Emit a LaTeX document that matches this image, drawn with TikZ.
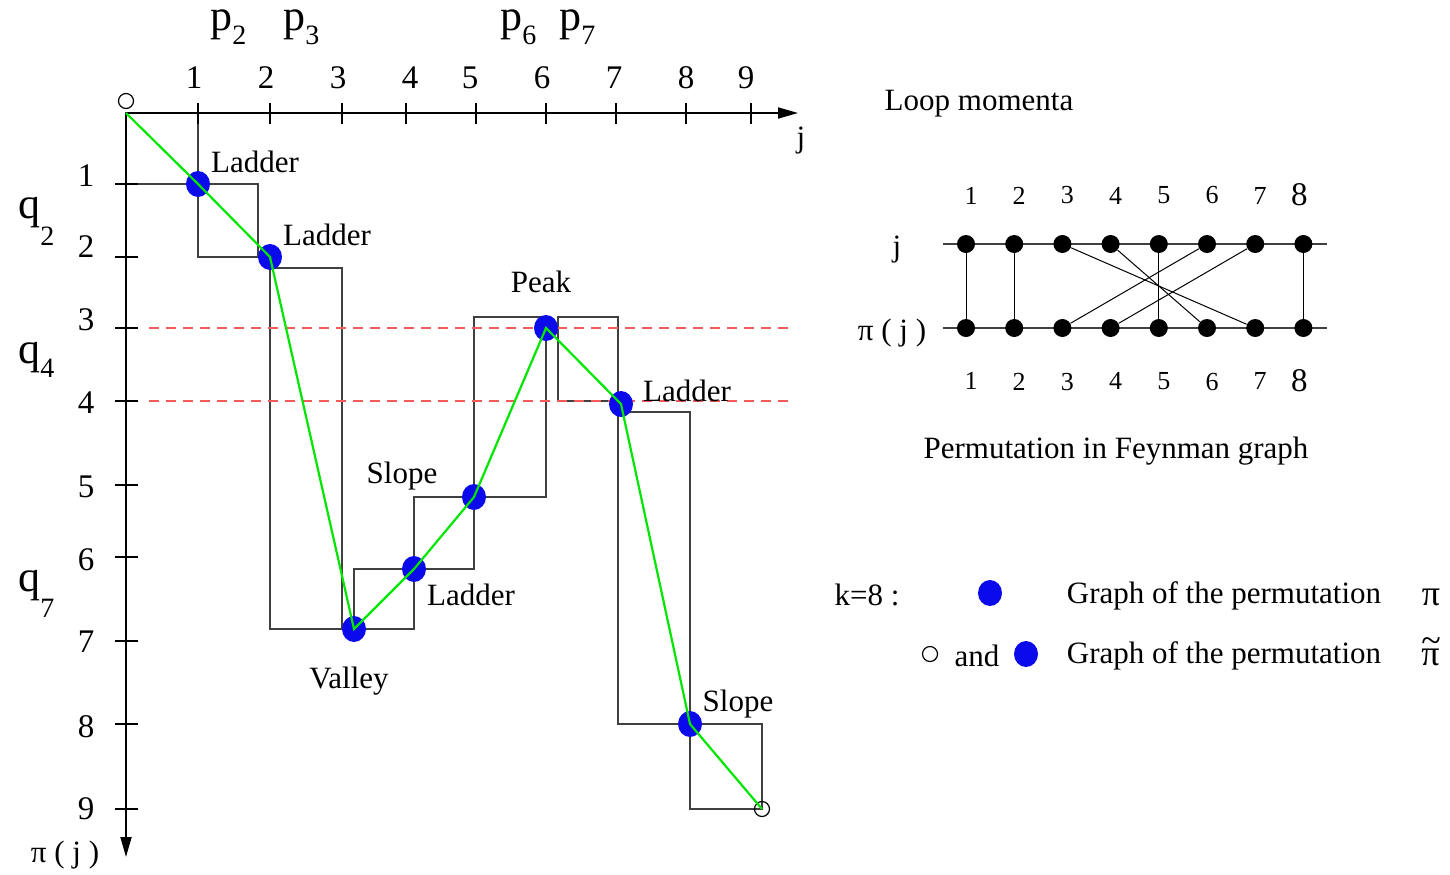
\documentclass[tikz,border=0pt]{standalone}
\usepackage{fontspec}
\setmainfont{Liberation Serif}
\usepackage{tikz}
\usetikzlibrary{shapes.geometric, arrows.meta, positioning, calc, backgrounds}

\definecolor{dotblue}{RGB}{10,10,235}
\definecolor{walkgreen}{RGB}{0,230,0}
\definecolor{boxgray}{RGB}{64,64,64}
\definecolor{refred}{RGB}{245,90,90}

\newcommand{\lowidx}[2][7pt]{\raisebox{-#1}{\fontsize{14}{14}\selectfont #2}}
\newcommand{\tildepi}{\ooalign{\hfil\raisebox{0.36em}{\textasciitilde}\hfil\cr π\cr}}

\begin{document}
\begin{tikzpicture}[
  x = 0.5pt, y = -0.5pt,
  lbl/.style      = {font=\fontsize{15.5}{18}\selectfont, inner sep=0pt},
  numlbl/.style   = {font=\fontsize{16.5}{18}\selectfont, inner sep=0pt},
  grnum/.style    = {font=\fontsize{13}{15}\selectfont, inner sep=0pt},
  pilbl/.style    = {font=\fontsize{18}{20}\selectfont, inner sep=0pt},
  momlbl/.style   = {font=\fontsize{22}{24}\selectfont, inner sep=0pt, anchor=base west},
  dot/.style      = {ellipse, fill=dotblue, minimum width=12pt, minimum height=13pt, inner sep=0pt},
  ring/.style     = {circle, draw=black, line width=0.6pt, minimum size=7.5pt, inner sep=0pt},
  vtx/.style      = {circle, fill=black, minimum size=9pt, inner sep=0pt},
  axisarr/.style  = {line width=0.9pt, -{Triangle[length=10pt, width=5.5pt]}},
  tickmark/.style = {line width=0.9pt},
  boxline/.style  = {line width=0.8pt, draw=boxgray},
  walk/.style     = {line width=1.1pt, draw=walkgreen},
  refline/.style  = {line width=0.75pt, draw=refred, dash pattern=on 5pt off 3.5pt},
  rail/.style     = {line width=0.8pt, draw=black!75},
  link/.style     = {line width=0.5pt}
]
\useasboundingbox (0,0) rectangle (1450,874);

% ── Axes ──────────────────────────────────────────────────────────────────────
\coordinate (O)    at (126,113);
\coordinate (xend) at (798,113);
\coordinate (yend) at (126,857);

% ── Boxes round the graph of pi ──────────────────────────────────────────────
\foreach \ax/\ay/\bx/\by in {126/113/198/184, 198/184/258/257, 270/268/342/629,
                             354/569/414/629, 414/497/474/569, 474/317/546/497,
                             558/317/618/401, 618/412/690/724, 690/724/762/809}
  \draw[boxline] (\ax,\ay) rectangle (\bx,\by);

\draw[axisarr] (O) -- (xend);
\draw[axisarr] (O) -- (yend);

\foreach \n/\tx/\nx in {1/198/194, 2/270/266, 3/342/338, 4/406/410, 5/476/470,
                        6/546/542, 7/616/614, 8/686/686, 9/751/746} {
  \draw[tickmark] (\tx,103) -- (\tx,124);
  \node[numlbl] (xn\n) at (\nx,78) {\n};
}
\foreach \n/\ty/\ny in {1/184/176, 2/257/247, 3/328/320, 4/401/403, 5/485/487,
                        6/557/560, 7/641/642, 8/724/727, 9/809/809} {
  \draw[tickmark] (115,\ty) -- (138,\ty);
  \node[numlbl] (yn\n) at (86,\ny) {\n};
}

\node[lbl] (jx)  at (801,141) {j};
\node[lbl] (piy) at (65,855)  {π ( j )};

% ── Momenta ──────────────────────────────────────────────────────────────────
\node[momlbl] (p2) at (210,30)  {p\lowidx{2}};
\node[momlbl] (p3) at (283,30)  {p\lowidx{3}};
\node[momlbl] (p6) at (500,30)  {p\lowidx{6}};
\node[momlbl] (p7) at (559,30)  {p\lowidx{7}};
\node[momlbl] (q2) at (18,218)  {q\lowidx[13.5pt]{2}};
\node[momlbl] (q4) at (18,363)  {q\lowidx[7pt]{4}};
\node[momlbl] (q7) at (18,591)  {q\lowidx[13pt]{7}};

% ── Reference levels ─────────────────────────────────────────────────────────
\draw[refline] (149,328) -- (790,328);
\draw[refline] (149,401) -- (790,401);

% ── Points of the permutation ────────────────────────────────────────────────
\node[dot]  (d1)    at (198,184) {};
\node[dot]  (d2)    at (270,257) {};
\node[dot]  (d3)    at (354,629) {};
\node[dot]  (d4)    at (414,569) {};
\node[dot]  (d5)    at (474,497) {};
\node[dot]  (d6)    at (546,328) {};
\node[dot]  (d7)    at (621,404) {};
\node[dot]  (d8)    at (690,724) {};
\node[ring] (start) at (126,101) {};
\node[ring] (stop)  at (762,809) {};

\draw[walk] (O) -- (d1.center) -- (d2.center) -- (d3.center) -- (d4.center)
  -- (d5.center) -- (d6.center) -- (d7.center) -- (d8.center) -- (stop.center);

% ── Labels ────────────────────────────────────────────────────────────────────
\node[lbl] (lad1) at (255,162) {Ladder};
\node[lbl] (lad2) at (327,235) {Ladder};
\node[lbl] (peak) at (541,282) {Peak};
\node[lbl] (lad3) at (687,391) {Ladder};
\node[lbl] (slp1) at (402,476) {Slope};
\node[lbl] (lad4) at (471,595) {Ladder};
\node[lbl] (vall) at (349,681) {Valley};
\node[lbl] (slp2) at (738,704) {Slope};

% ── Feynman graph ─────────────────────────────────────────────────────────────
\node[lbl] (loop) at (979,104) {Loop momenta};

\foreach \k in {1,...,8} {
  \node[vtx] (t\k) at ({966+48.2*(\k-1)},244) {};
  \node[vtx] (b\k) at ({966+48.2*(\k-1)},328) {};
}
\foreach \k in {1,...,7} {
  \node[grnum, above=15pt of t\k, xshift=2.5pt] (tn\k) {\k};
  \node[grnum, below=17.5pt of b\k, xshift=2.5pt] (bn\k) {\k};
}
\node[numlbl, above=14pt of t8, xshift=-2pt] (tn8) {8};
\node[numlbl, below=16pt of b8, xshift=-2pt] (bn8) {8};
\begin{scope}[on background layer]
  \draw[rail] ($(t1)+(-23,0)$) -- ($(t8)+(24,0)$);
  \draw[rail] ($(b1)+(-23,0)$) -- ($(b8)+(24,0)$);
\end{scope}
\foreach \a/\b in {1/1, 2/2, 3/7, 4/6, 5/5, 6/3, 7/4, 8/8}
  \draw[link] (t\a) -- (b\b);

\node[lbl] (jrow)  at (897,250) {j};
\node[lbl] (pirow) at (892,333) {π ( j )};
\node[lbl] (perm)  at (1116,451) {Permutation in Feynman graph};

% ── Legend ────────────────────────────────────────────────────────────────────
\node[lbl]   (k8)   at (867,595)  {k=8 :};
\node[dot]   (leg1) at (990,593)  {};
\node[lbl]   (gr1)  at (1224,596) {Graph of the permutation};
\node[pilbl] (pi1)  at (1431,597) {π};
\node[ring]  (leg0) at (930,654)  {};
\node[lbl]   (and)  at (977,656)  {and};
\node[dot]   (leg2) at (1026,654) {};
\node[lbl]   (gr2)  at (1224,656) {Graph of the permutation};
\node[pilbl] (pi2)  at (1431,652) {\tildepi};
\end{tikzpicture}
\end{document}
